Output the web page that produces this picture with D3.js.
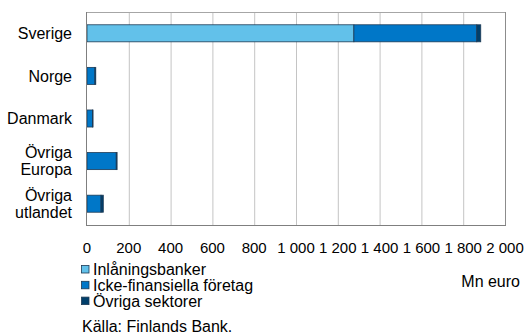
<!DOCTYPE html>
<html>
<head>
<meta charset="utf-8">
<script src="https://cdn.jsdelivr.net/npm/d3@7"></script>
<style>
  html, body { margin: 0; padding: 0; background: #fff; }
  svg { display: block; font-family: "Liberation Sans", Arial, sans-serif; }
</style>
</head>
<body>
<svg id="chart" width="525" height="333"></svg>
<script>
// Utländska fordringar per land och sektor, Mn euro
const categories = ["Sverige", "Norge", "Danmark", "Övriga Europa", "Övriga utlandet"];
const categoryLines = [["Sverige"], ["Norge"], ["Danmark"], ["Övriga", "Europa"], ["Övriga", "utlandet"]];
const seriesNames = ["Inlåningsbanker", "Icke-finansiella företag", "Övriga sektorer"];
const inlaningsbanker = [1277, 0, 0, 0, 0];
const ickeFinansiella = [588, 38, 26, 140, 67];
const ovrigaSektorer = [19, 4, 3, 4, 11];
const tickValues = [0, 200, 400, 600, 800, 1000, 1200, 1400, 1600, 1800, 2000];
const tickLabels = ["0", "200", "400", "600", "800", "1 000", "1 200", "1 400", "1 600", "1 800", "2 000"];
const colors = ["#62c1ea", "#0077c8", "#003f6b"];

const svg = d3.select("#chart");
const plotLeft = 87, plotRight = 505, plotTop = 12, plotBottom = 225;
const fontSize = 16;
const tickFontSize = 15;

const x = d3.scaleLinear().domain([0, 2000]).range([plotLeft, plotRight]);
const y = d3.scaleBand().domain(categories).range([plotTop, plotBottom]).paddingInner(0.6).paddingOuter(0.3);

// Vertical gridlines
svg.append("g")
  .selectAll("line")
  .data(tickValues.slice(1, -1))
  .join("line")
  .attr("x1", d => x(d) + 0.5).attr("x2", d => x(d) + 0.5)
  .attr("y1", plotTop).attr("y2", plotBottom)
  .attr("stroke", "#c4c4c4").attr("stroke-width", 1);

// Plot frame
svg.append("line").attr("x1", plotLeft).attr("x2", plotRight).attr("y1", plotTop + 0.5).attr("y2", plotTop + 0.5)
  .attr("stroke", "#a6a6a6");
svg.append("line").attr("x1", plotRight + 0.5).attr("x2", plotRight + 0.5).attr("y1", plotTop).attr("y2", plotBottom)
  .attr("stroke", "#8c8c8c");

// Stacked bars
const rows = categories.map((c, i) => ({
  cat: c,
  "Inlåningsbanker": inlaningsbanker[i],
  "Icke-finansiella företag": ickeFinansiella[i],
  "Övriga sektorer": ovrigaSektorer[i]
}));
const stack = d3.stack().keys(seriesNames)(rows);

svg.append("g")
  .selectAll("g")
  .data(stack)
  .join("g")
  .attr("fill", (d, i) => colors[i])
  .selectAll("rect")
  .data(d => d.filter(s => s[1] - s[0] > 0))
  .join("rect")
  .attr("x", d => x(d[0]))
  .attr("y", d => y(d.data.cat))
  .attr("width", d => x(d[1]) - x(d[0]))
  .attr("height", y.bandwidth())
  .attr("stroke", "#1d3a55")
  .attr("stroke-width", 0.8);

// Left and bottom axis lines
svg.append("line").attr("x1", plotLeft - 0.5).attr("x2", plotLeft - 0.5).attr("y1", plotTop).attr("y2", plotBottom + 1)
  .attr("stroke", "#7f7f7f");
svg.append("line").attr("x1", plotLeft).attr("x2", plotRight + 1).attr("y1", plotBottom + 0.5).attr("y2", plotBottom + 0.5)
  .attr("stroke", "#7f7f7f");

// Category labels
const catG = svg.append("g");
categories.forEach((c, i) => {
  const lines = categoryLines[i];
  const cy = y(c) + y.bandwidth() / 2;
  const t = catG.append("text")
    .attr("text-anchor", "end")
    .attr("font-size", fontSize)
    .attr("fill", "#000");
  lines.forEach((ln, j) => {
    t.append("tspan")
      .attr("x", 72)
      .attr("y", cy + (j - (lines.length - 1) / 2) * 17)
      .attr("dy", "0.36em")
      .text(ln);
  });
});

// X tick labels
svg.append("g")
  .selectAll("text")
  .data(tickValues)
  .join("text")
  .attr("x", d => x(d))
  .attr("y", 253)
  .attr("text-anchor", "middle")
  .attr("font-size", tickFontSize)
  .text((d, i) => tickLabels[i]);

// Legend
const legend = svg.append("g");
seriesNames.forEach((name, i) => {
  const base = 275 + i * 15.8;
  legend.append("rect")
    .attr("x", 81.5).attr("y", base - 9.5)
    .attr("width", 7.5).attr("height", 7.5)
    .attr("fill", colors[i])
    .attr("stroke", "#1d3a55").attr("stroke-width", 0.8);
  legend.append("text")
    .attr("x", 93).attr("y", base)
    .attr("font-size", fontSize)
    .text(name);
});

// Unit
svg.append("text")
  .attr("x", 520).attr("y", 286.5)
  .attr("text-anchor", "end")
  .attr("font-size", fontSize)
  .text("Mn euro");

// Source
svg.append("text")
  .attr("x", 82).attr("y", 331.5)
  .attr("font-size", fontSize)
  .text("Källa: Finlands Bank.");
</script>
</body>
</html>
